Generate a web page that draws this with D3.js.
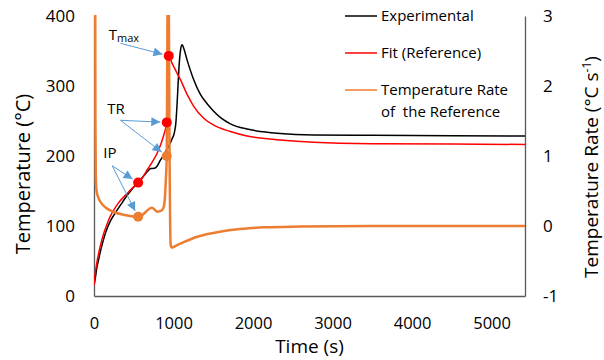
<!DOCTYPE html>
<html>
<head>
<meta charset="utf-8">
<script src="https://cdn.jsdelivr.net/npm/d3@7"></script>
<style>
  body { margin: 0; background: #fff; }
  svg { font-family: "Open Sans", sans-serif; }
</style>
</head>
<body>
<div id="chart"></div>
<script>
// Experimental temperature (left axis)
const expTime = [5, 20, 35, 56, 90, 141, 210, 270, 340, 400, 460, 520, 600, 650, 690, 710, 760, 790, 835, 870, 900, 940, 980, 1010, 1030, 1045, 1060, 1075, 1092, 1108, 1125, 1171, 1254, 1338, 1420, 1505, 1600, 1715, 1925, 2133, 2343, 2760, 3500, 4500, 5420];
const expTemp = [18, 28, 40, 51, 68, 89, 108, 119, 131, 141, 150, 158, 168, 175, 180, 182, 182.5, 185, 194, 200, 206, 214, 224, 233, 248, 275, 308, 337, 354, 359, 355, 337, 309, 288, 275, 264, 254, 246, 238.5, 234.5, 232, 230, 229.5, 229, 228.5];

// Fit (reference) temperature (left axis)
const fitTime = [0, 10, 35, 98, 182, 308, 413, 480, 555, 620, 668, 730, 794, 850, 880, 915, 925, 933, 940, 980, 1024, 1087, 1171, 1254, 1380, 1505, 1715, 1925, 2343, 2760, 3500, 4500, 5420];
const fitTemp = [15, 28, 47, 80, 108, 133, 146, 154, 162, 171, 180, 191, 204, 220, 231, 248, 280, 320, 343, 333, 323, 309, 288, 271, 254, 244, 235, 228.6, 223, 219.6, 217.5, 217, 216.5];

// Temperature rate of the reference (right axis)
const rateTime = [0, 12, 18, 22, 30, 50, 90, 150, 250, 370, 470, 555, 600, 650, 700, 730, 770, 800, 840, 870, 890, 905, 915, 925, 932, 940, 950, 958, 965, 980, 1000, 1050, 1100, 1300, 1500, 1715, 1925, 2130, 2600, 3500, 5420];
const rateVal = [20, 6, 1.5, 0.75, 0.52, 0.42, 0.33, 0.26, 0.2, 0.16, 0.14, 0.133, 0.15, 0.2, 0.25, 0.26, 0.225, 0.205, 0.215, 0.25, 0.38, 0.7, 1.0, 3.2, 6, 3.5, 1.0, 0.0, -0.28, -0.31, -0.3, -0.27, -0.245, -0.153, -0.1, -0.057, -0.035, -0.019, -0.008, 0, 0];

// Marked points: IP, TR, Tmax
const pointNames = ["IP", "TR", "Tmax"];
const fitPointTime = [555, 915, 940];
const fitPointTemp = [162, 248, 343];
const ratePointTime = [555, 915];
const ratePointVal = [0.133, 1.0];

// Annotation labels and arrow origins (data coordinates)
const labelTime = [116, 166, 185];
const labelTemp = [197, 260, 366];
const arrowTime = [229, 333, 333];
const arrowTemp = [186, 251, 361];

const xTicks = [0, 1000, 2000, 3000, 4000, 5000];
const yTicks = [0, 100, 200, 300, 400];
const y2Ticks = [-1, 0, 1, 2, 3];

const legendNames = ["Experimental", "Fit (Reference)", "Temperature Rate", "of  the Reference"];
const legendColors = ["#000000", "#ff0000", "#ed7d31"];

const W = 604, H = 360;
const plotL = 94, plotR = 525, plotT = 16, plotB = 296;

const svg = d3.select("#chart").append("svg")
  .attr("width", W)
  .attr("height", H);

const x = d3.scaleLinear().domain([0, 5420]).range([plotL, plotR]);
const y = d3.scaleLinear().domain([0, 400]).range([plotB, plotT]);
const y2 = d3.scaleLinear().domain([-1, 3]).range([plotB, plotT]);

// Axes
const axisColor = "#595959";
const xAxis = svg.append("g")
  .attr("transform", "translate(0," + plotB + ")")
  .call(d3.axisBottom(x).tickValues(xTicks).tickSize(0).tickPadding(21).tickFormat(d3.format("d")));
const yAxis = svg.append("g")
  .attr("transform", "translate(" + plotL + ",0)")
  .call(d3.axisLeft(y).tickValues(yTicks).tickSize(0).tickPadding(19));
const y2Axis = svg.append("g")
  .attr("transform", "translate(" + plotR + ",0)")
  .call(d3.axisRight(y2).tickValues(y2Ticks).tickSize(0).tickPadding(18).tickFormat(d => d < 0 ? "-" + Math.abs(d) : d));

[xAxis, yAxis, y2Axis].forEach(g => {
  g.select(".domain").attr("stroke", axisColor).attr("stroke-width", 1.3);
  g.selectAll("text").attr("font-size", 17).attr("fill", "#000").attr("font-family", "Open Sans");
});
xAxis.selectAll("text").attr("font-size", 16.5);

// Clip
svg.append("clipPath").attr("id", "plot")
  .append("rect").attr("x", plotL).attr("y", plotT - 1).attr("width", plotR - plotL).attr("height", plotB - plotT + 1);

const lineT = d3.line().x(d => x(d[0])).y(d => y(d[1])).curve(d3.curveMonotoneX);
const lineR = d3.line().x(d => x(d[0])).y(d => y2(d[1])).curve(d3.curveMonotoneX);

const lines = svg.append("g").attr("clip-path", "url(#plot)");
lines.append("path")
  .datum(d3.zip(expTime, expTemp))
  .attr("fill", "none").attr("stroke", legendColors[0]).attr("stroke-width", 1.5)
  .attr("d", lineT);
lines.append("path")
  .datum(d3.zip(fitTime, fitTemp))
  .attr("fill", "none").attr("stroke", legendColors[1]).attr("stroke-width", 1.5)
  .attr("d", lineT);
lines.append("path")
  .datum(d3.zip(rateTime, rateVal))
  .attr("fill", "none").attr("stroke", legendColors[2]).attr("stroke-width", 2.5)
  .attr("d", lineR);

// Annotation arrows
const blue = "#5b9bd5";
svg.append("defs").append("marker")
  .attr("id", "arrow")
  .attr("markerUnits", "userSpaceOnUse")
  .attr("viewBox", "0 0 10 10")
  .attr("refX", 10).attr("refY", 5)
  .attr("markerWidth", 10).attr("markerHeight", 9)
  .attr("orient", "auto")
  .append("path").attr("d", "M0,0 L10,5 L0,10 Z").attr("fill", blue);

// targets: [annotation index, x px, y px]
const targets = [];
fitPointTime.forEach((t, i) => targets.push([i, x(t), y(fitPointTemp[i])]));
ratePointTime.forEach((t, i) => targets.push([i, x(t), y2(ratePointVal[i])]));

targets.forEach(([i, cx, cy]) => {
  const sx = x(arrowTime[i]), sy = y(arrowTemp[i]);
  const len = Math.hypot(cx - sx, cy - sy);
  const k = (len - 6.5) / len;
  svg.append("line")
    .attr("x1", sx).attr("y1", sy)
    .attr("x2", sx + (cx - sx) * k).attr("y2", sy + (cy - sy) * k)
    .attr("stroke", blue).attr("stroke-width", 1)
    .attr("marker-end", "url(#arrow)");
});

// Points
svg.selectAll(".fitdot")
  .data(d3.zip(fitPointTime, fitPointTemp))
  .enter().append("circle")
  .attr("cx", d => x(d[0])).attr("cy", d => y(d[1]))
  .attr("r", 5).attr("fill", "#ff0000");
svg.selectAll(".ratedot")
  .data(d3.zip(ratePointTime, ratePointVal))
  .enter().append("circle")
  .attr("cx", d => x(d[0])).attr("cy", d => y2(d[1]))
  .attr("r", 5).attr("fill", "#ed7d31");

// Annotation labels
pointNames.forEach((name, i) => {
  const t = svg.append("text")
    .attr("x", x(labelTime[i])).attr("y", y(labelTemp[i]))
    .attr("font-size", 15).attr("fill", "#000");
  if (name === "Tmax") {
    t.append("tspan").text("T");
    t.append("tspan").attr("font-size", 11).attr("dy", 2.5).text("max");
  } else {
    t.text(name);
  }
});

// Legend
const legendY = [16, 53, 90];
legendColors.forEach((c, i) => {
  svg.append("line")
    .attr("x1", 345).attr("x2", 377)
    .attr("y1", legendY[i]).attr("y2", legendY[i])
    .attr("stroke", c).attr("stroke-width", 1.5);
});
const legendTextY = [21, 58, 95, 117];
legendNames.forEach((n, i) => {
  svg.append("text")
    .attr("x", 381).attr("y", legendTextY[i])
    .attr("font-size", 15).attr("fill", "#000")
    .style("white-space", "pre")
    .text(n);
});

// Axis titles
svg.append("text")
  .attr("text-anchor", "middle")
  .attr("transform", "translate(" + ((plotL + plotR) / 2) + ",353)")
  .attr("font-size", 19)
  .text("Time (s)");

svg.append("text")
  .attr("text-anchor", "middle")
  .attr("transform", "translate(30,174)rotate(-90)")
  .attr("font-size", 20)
  .text("Temperature (°C)");

const rt = svg.append("text")
  .attr("text-anchor", "middle")
  .attr("transform", "translate(598,167)rotate(-90)")
  .attr("font-size", 19);
rt.append("tspan").text("Temperature Rate (°C s");
rt.append("tspan").attr("font-size", 12).attr("dy", -7).text("-1");
rt.append("tspan").attr("dy", 7).text(")");
</script>
</body>
</html>
